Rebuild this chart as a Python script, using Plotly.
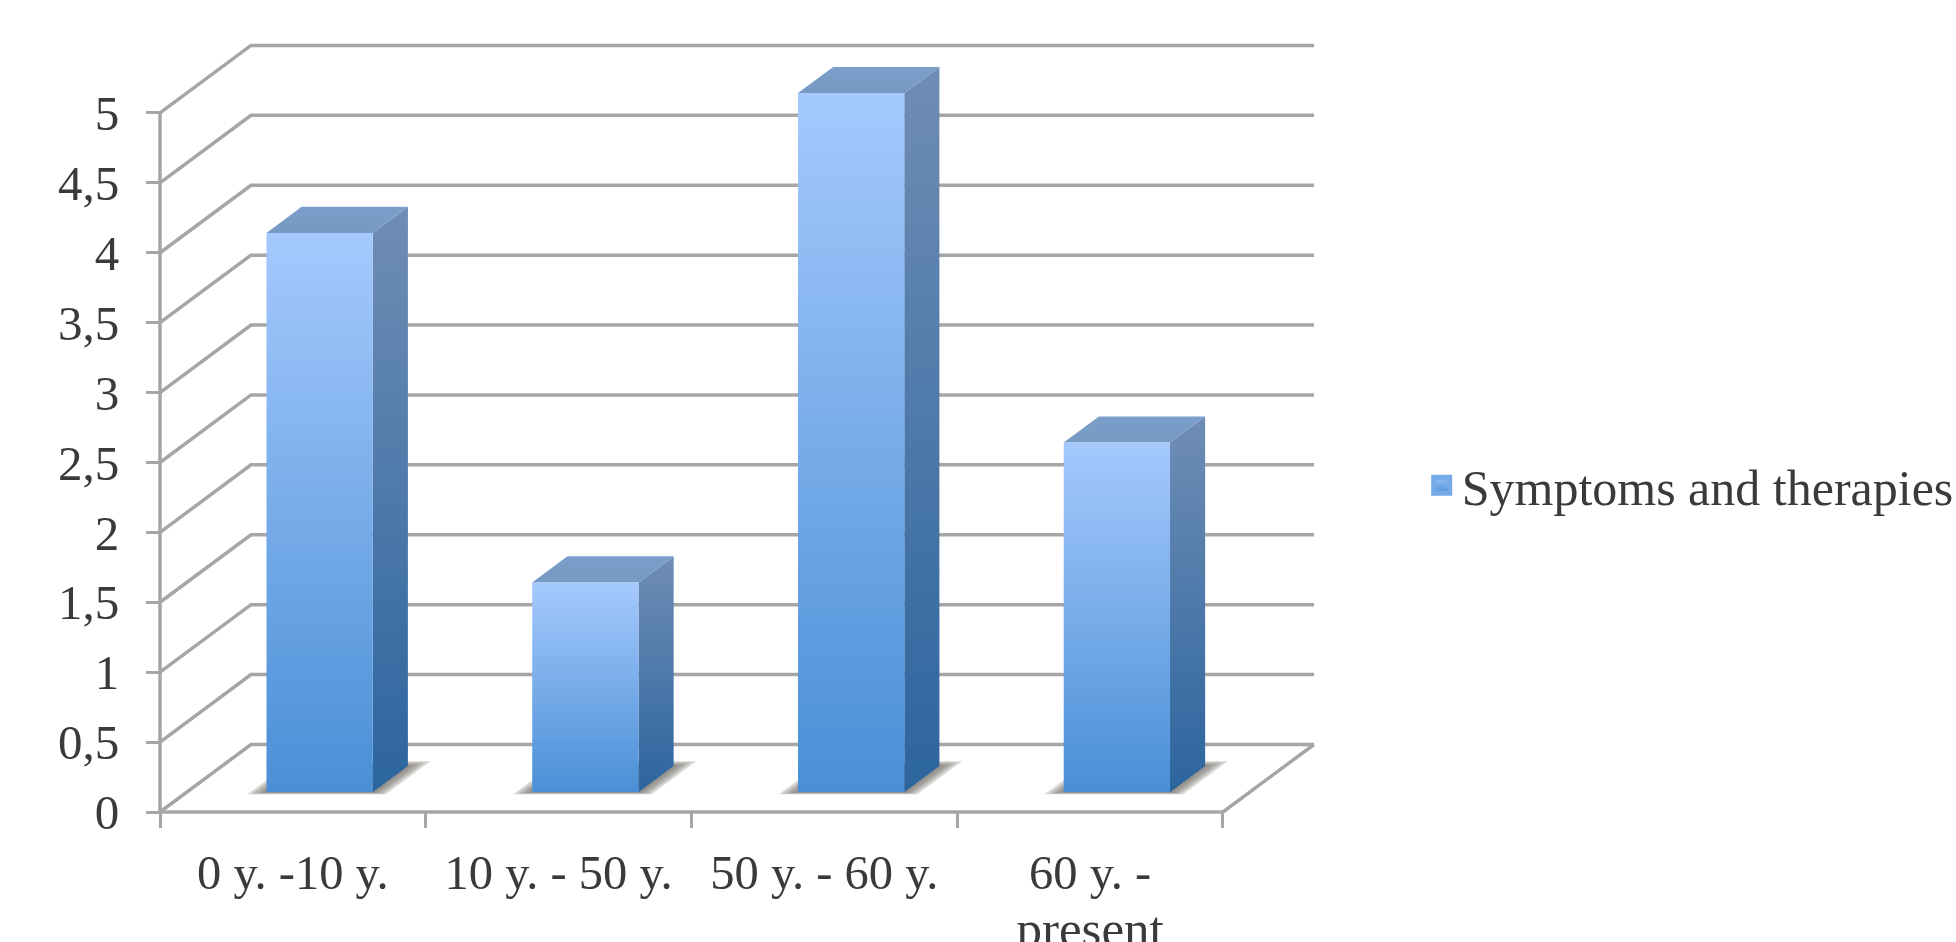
import plotly.graph_objects as go

# Chart data
categories = ["0 y. -10 y.", "10 y. - 50 y.", "50 y. - 60 y.", "60 y. -"]
category_second_lines = ["", "", "", "present"]
values = [4, 1.5, 5, 2.5]
y_ticks = [0, 0.5, 1, 1.5, 2, 2.5, 3, 3.5, 4, 4.5, 5]
y_tick_labels = ["0", "0,5", "1", "1,5", "2", "2,5", "3", "3,5", "4", "4,5", "5"]
series_name = "Symptoms and therapies"

# Oblique projection: full chart depth, expressed in axis units
DEPTH_X = 0.3425
DEPTH_Y = 0.483
BAR_WIDTH = 0.40
BAR_FRONT = 0.294
BAR_BACK = 0.68

GRID = "#a6a6a6"
LINE_W = 3.5
TEXT = "#3a3a3a"
FONT = "Liberation Serif"
LEGEND_SIZE = 50
TICK_SIZE = 49
CATEGORY_SIZE = 48.5
SECOND_LINE_SIZE = 51

# Plot area runs a little past the axes so the frame lines keep their full width
PAD_X = 20 / 265.75
PAD_Y = 10 / 139.8


def project(x, y, z):
    """Map a point (category position, value, depth 0..1) onto the flat axes."""
    return x + z * DEPTH_X, y + z * DEPTH_Y


def polygon(points):
    xs, ys = zip(*[project(*p) for p in points])
    return list(xs) + [xs[0]], list(ys) + [ys[0]]


def face(points, top, bottom):
    xs, ys = polygon(points)
    return go.Scatter(
        x=xs, y=ys, mode="lines", fill="toself", line=dict(width=0),
        fillgradient=dict(type="vertical", colorscale=[[0, bottom], [1, top]]),
        showlegend=False, hoverinfo="skip",
    )


def frame_line(points, color=GRID, width=LINE_W):
    fig.add_trace(go.Scatter(x=[p[0] for p in points], y=[p[1] for p in points], mode="lines",
                             line=dict(color=color, width=width), showlegend=False,
                             hoverinfo="skip"))


fig = go.Figure()

# Walls and floor
n = len(categories)
for v in y_ticks:
    frame_line([project(0, v, 0), project(0, v, 1), project(n, v, 1)])

# Front value axis, front category axis and the floor's right edge
frame_line([project(0, y_ticks[0], 0), project(0, y_ticks[-1], 0)])
frame_line([project(0, 0, 0), project(n, 0, 0), project(n, 0, 1)])

# Bars: soft floor shadow built from nested translucent layers, then the three faces
SHADOW_SPREADS = [(0.06, 0.06), (0.045, 0.045), (0.03, 0.03), (0.015, 0.015)]
for i, v in enumerate(values):
    left = i + 0.5 - BAR_WIDTH / 2
    right = i + 0.5 + BAR_WIDTH / 2

    for dx, dz in SHADOW_SPREADS:
        sx, sy = polygon([(left - dx, 0, BAR_FRONT - dz * 0.55), (right + dx, 0, BAR_FRONT - dz * 0.55),
                          (right + dx, 0, BAR_BACK + dz * 1.2), (left - dx, 0, BAR_BACK + dz * 1.2)])
        fig.add_trace(go.Scatter(x=sx, y=sy, mode="lines", fill="toself", line=dict(width=0),
                                 fillcolor="rgba(120,115,108,0.3)", showlegend=False,
                                 hoverinfo="skip"))

    fig.add_trace(face([(right, 0, BAR_FRONT), (right, 0, BAR_BACK),
                        (right, v, BAR_BACK), (right, v, BAR_FRONT)], "#6f8db5", "#2c659e"))
    fig.add_trace(face([(left, v, BAR_FRONT), (right, v, BAR_FRONT),
                        (right, v, BAR_BACK), (left, v, BAR_BACK)], "#7b9fca", "#7699c4"))
    fig.add_trace(face([(left, 0, BAR_FRONT), (right, 0, BAR_FRONT),
                        (right, v, BAR_FRONT), (left, v, BAR_FRONT)], "#a5c9fd", "#4a8fd6"))

# Legend entry
fig.add_trace(go.Scatter(
    x=[None], y=[None], mode="markers", name=series_name, showlegend=True,
    marker=dict(symbol="square", size=16, color="#98c0f2",
                gradient=dict(type="vertical", color="#4f95da"),
                line=dict(color="#74aae8", width=5)),
))

x_range = [-PAD_X, n + DEPTH_X + PAD_X / 2]
y_top = 5.486 + PAD_Y * 2
y_range = [-PAD_Y, y_top]
x_zero = PAD_X / (x_range[1] - x_range[0])
y_zero = PAD_Y / (y_range[1] - y_range[0])
label_x = [i + 0.5 for i in range(n)]


def label_axis(text, length, size):
    """Overlaid axis that only carries one line of the category labels."""
    return dict(range=x_range, overlaying="x", anchor="free", position=y_zero, side="bottom",
                tickvals=label_x, ticktext=text, ticks="outside", ticklen=length,
                tickcolor="rgba(0,0,0,0)", tickangle=0, tickfont=dict(size=size),
                showgrid=False, showline=False, zeroline=False)


fig.update_layout(
    width=1956, height=942,
    margin=dict(l=140, r=632, t=25, b=120, pad=0, autoexpand=False),
    paper_bgcolor="white", plot_bgcolor="white",
    font=dict(family=FONT, size=TICK_SIZE, color=TEXT),
    hovermode=False,
    xaxis=dict(range=x_range, anchor="free", position=y_zero, tickvals=list(range(n + 1)),
               ticktext=[""] * (n + 1), ticks="outside", ticklen=15, tickwidth=3,
               tickcolor=GRID, showgrid=False, showline=False, zeroline=False),
    xaxis2=label_axis(categories, 18, CATEGORY_SIZE),
    xaxis3=label_axis(category_second_lines, 72, SECOND_LINE_SIZE),
    yaxis=dict(range=y_range, anchor="free", position=x_zero, tickvals=y_ticks,
               ticktext=y_tick_labels, ticks="outside", ticklen=14, tickwidth=3, tickcolor=GRID,
               ticklabelstandoff=17, showgrid=False, showline=False, zeroline=False),
    legend=dict(x=1.0825, y=0.4225, xanchor="left", yanchor="middle", bgcolor="rgba(0,0,0,0)",
                font=dict(family=FONT, size=LEGEND_SIZE, color=TEXT)),
)
# Empty traces so the overlaid label axes render
for axis in ("x2", "x3"):
    fig.add_trace(go.Scatter(x=[None], y=[None], xaxis=axis, showlegend=False, hoverinfo="skip"))

fig.write_html("out.html")
